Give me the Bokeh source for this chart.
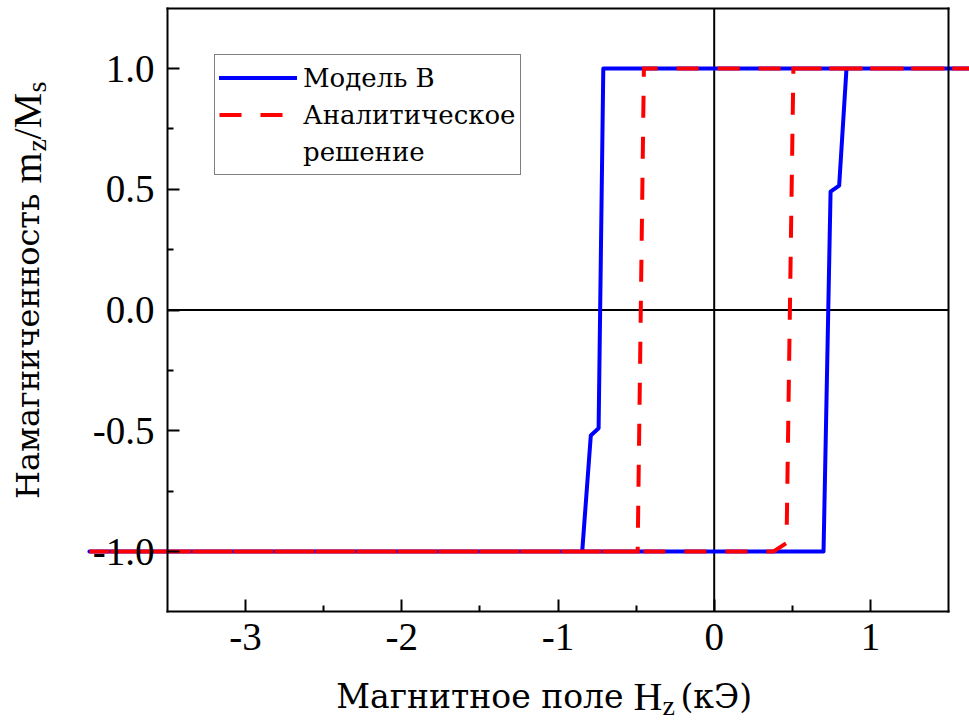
from bokeh.plotting import figure
from bokeh.models import (LinearAxis, FixedTicker, PrintfTickFormatter, Legend,
                          LegendItem, Label)
from bokeh.embed import file_html
from bokeh.resources import INLINE

# ---------------- data ----------------
# Model B (blue, solid): descending branch then ascending branch
blue_h = [2.0, -0.71, -0.74, -0.79, -0.845, -4.0, 0.70, 0.745, 0.80, 0.847, 2.0]
blue_m = [1.0, 1.0, -0.49, -0.52, -1.0, -1.0, -1.0, 0.49, 0.515, 1.0, 1.0]

# Analytic solution (red, dashed)
red_h = [2.0, -0.45, -0.49, -4.0, 0.38, 0.463, 0.507, 2.0]
red_m = [1.0, 1.0, -1.0, -1.0, -1.0, -0.965, 1.0, 1.0]

x_ticks = [-3, -2, -1, 0, 1]
x_minor = [-2.5, -1.5, -0.5, 0.5]
y_ticks = [-1.0, -0.5, 0.0, 0.5, 1.0]
y_minor = [-0.75, -0.25, 0.25, 0.75]

legend_labels = ["Модель В", "Аналитическое", "решение"]
xlabel_parts = ["Магнитное поле", "H", "z", "(кЭ)"]
ylabel_parts = ["Намагниченность", "m", "z", "/M", "s"]

# axis box limits
XMIN, XMAX = -3.5, 1.5
YMIN, YMAX = -1.25, 1.25

# ---------------- geometry helpers (pixel -> data) ----------------
W, H = 969, 722
X0PX, XSCALE = 713.7, 156.2
Y0PX, YSCALE = 309.5, 241.5


def px_x(px):
    return (px - X0PX) / XSCALE


def px_y(py):
    return (Y0PX - py) / YSCALE


FONT = "Liberation Serif"
FONT_CYR = "DejaVu Serif"

p = figure(width=W, height=H,
           x_range=(px_x(0), px_x(W)), y_range=(px_y(H), px_y(0)),
           x_axis_location=None, y_axis_location=None,
           toolbar_location=None, output_backend="svg",
           min_border=0, outline_line_color=None)
p.min_border_left = 0
p.min_border_right = 0
p.min_border_top = 0
p.min_border_bottom = 0
p.background_fill_color = "white"
p.border_fill_color = "white"
p.xgrid.visible = False
p.ygrid.visible = False
p.grid.visible = False

# zero lines
p.segment(x0=[XMIN, 0], y0=[0, YMIN], x1=[XMAX, 0], y1=[0, YMAX],
          line_color="black", line_width=2)

blue = p.line(blue_h, blue_m, line_color="#0000ff", line_width=4,
              line_join="round", line_cap="round")
red = p.line(red_h, red_m, line_color="#ff0000", line_width=4,
             line_dash="22 19", line_join="miter")
dummy = p.line([], [], line_color="white", line_alpha=0)


def style_axis(ax, size="39px"):
    ax.axis_line_width = 2
    ax.axis_line_color = "black"
    ax.axis_line_cap = "square"
    ax.major_tick_line_width = 2
    ax.minor_tick_line_width = 2
    ax.major_tick_line_color = "black"
    ax.minor_tick_line_color = "black"
    ax.major_tick_in = 12
    ax.major_tick_out = 0
    ax.minor_tick_in = 6
    ax.minor_tick_out = 0
    ax.major_label_text_font = FONT
    ax.major_label_text_font_size = size
    ax.major_label_text_color = "black"


left = LinearAxis(fixed_location=XMIN, bounds=(YMIN, YMAX),
                  ticker=FixedTicker(ticks=y_ticks, minor_ticks=y_minor),
                  formatter=PrintfTickFormatter(format="%.1f"))
style_axis(left)
left.major_label_standoff = 13
p.add_layout(left, "left")

bottom = LinearAxis(fixed_location=YMIN, bounds=(XMIN, XMAX),
                    ticker=FixedTicker(ticks=x_ticks, minor_ticks=x_minor),
                    formatter=PrintfTickFormatter(format="%d"))
style_axis(bottom)
bottom.major_label_standoff = 12
p.add_layout(bottom, "below")

top = LinearAxis(fixed_location=YMAX, bounds=(XMIN, XMAX),
                 ticker=FixedTicker(ticks=[], minor_ticks=[]))
style_axis(top)
top.major_tick_in = 0
top.minor_tick_in = 0
p.add_layout(top, "above")

right = LinearAxis(fixed_location=XMAX, bounds=(YMIN, YMAX),
                   ticker=FixedTicker(ticks=[], minor_ticks=[]))
style_axis(right)
right.major_tick_in = 0
right.minor_tick_in = 0
p.add_layout(right, "right")

legend = Legend(items=[LegendItem(label=legend_labels[0], renderers=[blue]),
                       LegendItem(label=legend_labels[1], renderers=[red]),
                       LegendItem(label=legend_labels[2], renderers=[dummy])],
                location=(214, H - 175),
                label_text_font=FONT_CYR, label_text_font_size="26px",
                label_text_color="black",
                glyph_width=78, glyph_height=37, label_standoff=6,
                label_height=37,
                padding=4, spacing=0, margin=0,
                border_line_color="black", border_line_width=1.5,
                background_fill_color="white", background_fill_alpha=1.0)
p.add_layout(legend)


def lab(text, px, py, size, align="left", angle=0, font=FONT):
    p.add_layout(Label(x=px_x(px), y=px_y(py), text=text, text_font=font,
                       text_font_size=size, text_color="black",
                       text_align=align, text_baseline="alphabetic",
                       angle=angle, angle_units="deg"))


# x axis label with subscript (baseline shifted for Bokeh's text placement)
XB = 696
lab(xlabel_parts[0], 623, XB, "33px", align="right", font=FONT_CYR)
lab(xlabel_parts[1], 662, XB, "40px", align="right")
lab(xlabel_parts[2], 662, XB + 9, "28px")
lab(xlabel_parts[3], 680, XB, "33px", font=FONT_CYR)

# y axis label (rotated) with subscripts
YB = 27
lab(ylabel_parts[0], YB, 193, "32px", align="right", angle=90, font=FONT_CYR)
lab(ylabel_parts[1], YB, 152, "40px", align="right", angle=90)
lab(ylabel_parts[2], YB + 9, 151, "28px", angle=90)
lab(ylabel_parts[3], YB, 139, "40px", angle=90)
lab(ylabel_parts[4], YB + 9, 92, "28px", angle=90)

open("out.html", "w").write(file_html(p, INLINE))
